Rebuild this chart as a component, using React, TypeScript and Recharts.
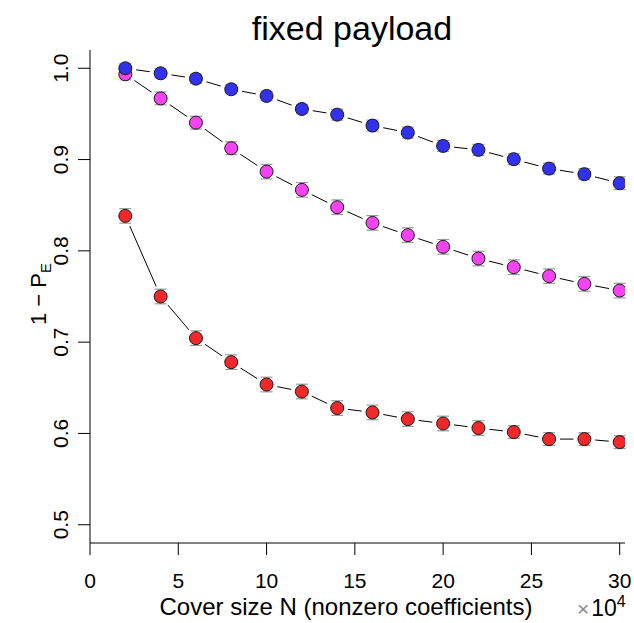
import { LineChart, Line, XAxis, YAxis, ErrorBar } from "recharts";

// cover size N, in units of 10^4
const coverSize = [2, 4, 6, 8, 10, 12, 14, 16, 18, 20, 22, 24, 26, 28, 30];

const blueVals = [1.0, 0.9945, 0.9886, 0.977, 0.9697, 0.9554, 0.9492, 0.9372, 0.9295, 0.9149, 0.9106, 0.9004, 0.8901, 0.884, 0.8741];
const magentaVals = [0.9934, 0.967, 0.9404, 0.9124, 0.8868, 0.8668, 0.8478, 0.8306, 0.8172, 0.8044, 0.7916, 0.7821, 0.7723, 0.7638, 0.7565];
const redVals = [0.8383, 0.75, 0.7044, 0.6781, 0.6536, 0.6459, 0.6278, 0.623, 0.6157, 0.6109, 0.6059, 0.6015, 0.5938, 0.5938, 0.5905];

const blueErr = [0.005, 0.005, 0.005, 0.005, 0.005, 0.005, 0.006, 0.006, 0.006, 0.006, 0.006, 0.006, 0.006, 0.006, 0.007];
const magentaErr = [0.006, 0.007, 0.007, 0.007, 0.008, 0.008, 0.008, 0.008, 0.008, 0.008, 0.008, 0.008, 0.008, 0.008, 0.008];
const redErr = [0.008, 0.008, 0.008, 0.008, 0.008, 0.008, 0.008, 0.008, 0.008, 0.008, 0.008, 0.007, 0.007, 0.007, 0.007];

const xTicks = [0, 5, 10, 15, 20, 25, 30];
const yTicks = [0.5, 0.6, 0.7, 0.8, 0.9, 1.0];

const BLUE = "#3232ee";
const MAGENTA = "#f542f2";
const RED = "#f0282a";
const FONT = "'Liberation Sans', Arial, Helvetica, sans-serif";
const X_DOMAIN = [0, 30.3];
const Y_DOMAIN = [0.48, 1.02];

const data = coverSize.map((n, i) => ({
  n,
  blue: blueVals[i],
  blueErr: blueErr[i],
  magenta: magentaVals[i],
  magentaErr: magentaErr[i],
  red: redVals[i],
  redErr: redErr[i],
}));

const series = [
  { key: "red", color: RED },
  { key: "magenta", color: MAGENTA },
  { key: "blue", color: BLUE },
];

function XTick(props: any) {
  const { x, y, payload } = props;
  return (
    <text x={x} y={y + 31} textAnchor="middle" fontSize={21} fontFamily={FONT} fill="#000">
      {payload.value}
    </text>
  );
}

function YTick(props: any) {
  const { x, y, payload } = props;
  const bx = x - 8;
  return (
    <text
      x={bx}
      y={y}
      transform={`rotate(-90 ${bx} ${y})`}
      textAnchor="middle"
      fontSize={21}
      fontFamily={FONT}
      fill="#000"
    >
      {payload.value.toFixed(1)}
    </text>
  );
}

// white disc under each point so the joining line stops short of it (R type="b")
function Gap(props: any) {
  const { cx, cy } = props;
  if (cx == null || cy == null) return null;
  return <circle cx={cx} cy={cy} r={11} fill="#fff" stroke="none" />;
}

function makeMarker(color: string) {
  return function Marker(props: any) {
    const { cx, cy } = props;
    if (cx == null || cy == null) return null;
    return <circle cx={cx} cy={cy} r={6.5} fill={color} stroke="#1a1a1a" strokeWidth={1} />;
  };
}

const layer: React.CSSProperties = { position: "absolute", left: 0, top: 0 };

export default function App() {
  return (
    <div style={{ position: "absolute", left: 0, top: 0, width: 634, height: 623, background: "#fff" }}>
      {/* bottom layer: axes, joining lines, texts */}
      <div style={layer}>
        <LineChart
          width={634}
          height={623}
          data={data}
          margin={{ top: 50, right: 9, left: 0, bottom: 0 }}
        >
          <XAxis
            dataKey="n"
            type="number"
            domain={X_DOMAIN}
            ticks={xTicks}
            tickSize={12}
            height={80}
            stroke="#000"
            tick={<XTick />}
            allowDataOverflow
          />
          <YAxis
            type="number"
            domain={Y_DOMAIN}
            ticks={yTicks}
            tickSize={12}
            width={90}
            stroke="#000"
            tick={<YTick />}
            allowDataOverflow
          />
          {series.map((s) => (
            <Line
              key={s.key + "-line"}
              dataKey={s.key}
              stroke="#000"
              strokeWidth={1}
              dot={<Gap />}
              activeDot={false}
              isAnimationActive={false}
            />
          ))}
          <text x={352} y={40} textAnchor="middle" fontSize={34} fontFamily={FONT} fill="#000">
            fixed payload
          </text>
          <text x={346} y={615} textAnchor="middle" fontSize={24} fontFamily={FONT} fill="#000">
            Cover size N (nonzero coefficients)
          </text>
          <text x={577} y={616} fontFamily={FONT} fill="#000">
            <tspan fontSize={21} fill="#888">×</tspan>
            <tspan fontSize={23} dx={2}>10</tspan>
            <tspan fontSize={16} dy={-9}>4</tspan>
          </text>
          <text
            x={46}
            y={294}
            transform="rotate(-90 46 294)"
            textAnchor="middle"
            fontFamily={FONT}
            fill="#000"
          >
            <tspan fontSize={22}>1 − P</tspan>
            <tspan fontSize={15} dy={5}>E</tspan>
          </text>
        </LineChart>
      </div>
      {/* top layer: error bars and markers */}
      <div style={layer}>
        <LineChart
          width={634}
          height={623}
          data={data}
          margin={{ top: 50, right: 9, left: 90, bottom: 80 }}
        >
          <XAxis dataKey="n" type="number" domain={X_DOMAIN} hide allowDataOverflow />
          <YAxis type="number" domain={Y_DOMAIN} hide allowDataOverflow />
          {series.map((s) => (
            <Line
              key={s.key + "-pts"}
              dataKey={s.key}
              stroke="none"
              dot={makeMarker(s.color)}
              activeDot={false}
              isAnimationActive={false}
            >
              <ErrorBar dataKey={s.key + "Err"} width={6} stroke="#9a9a9a" strokeWidth={1.2} direction="y" />
            </Line>
          ))}
        </LineChart>
      </div>
    </div>
  );
}
